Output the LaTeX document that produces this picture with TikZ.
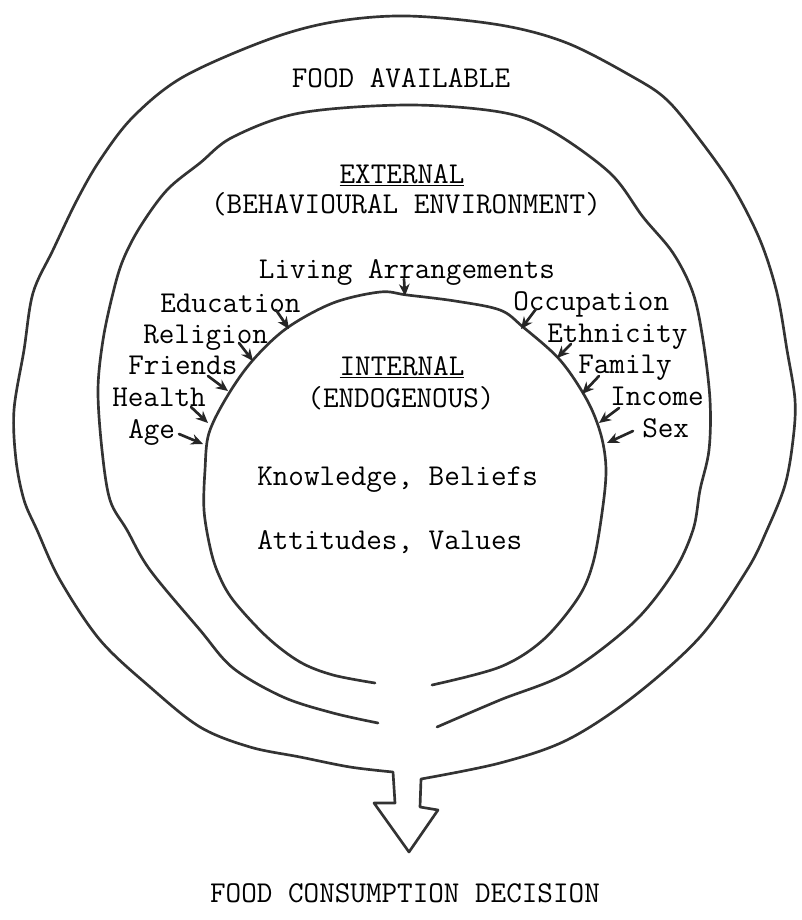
\documentclass[tikz,border=0pt]{standalone}
\usetikzlibrary{arrows.meta}
\begin{document}
\begin{tikzpicture}[x=0.75pt,y=-0.75pt,
  lbl/.style={font=\fontsize{22.7}{27}\selectfont\ttfamily, inner sep=0pt, anchor=base west, text=black},
  ctr/.style={lbl, anchor=base},
  curve/.style={line width=2pt, draw=black!80, line join=round, line cap=round},
  ptr/.style={line width=2pt, draw=black!85, line cap=round, -{Stealth[length=9pt,width=8pt]}}]
\useasboundingbox (0,0) rectangle (801,920);

% inner curve
\draw[curve] plot[smooth, tension=0.55] coordinates {(375,683) (333,675) (300,662) (267,637) (233,600) (218,573) (210,547) (204,510) (205,470) (209,433) (228,395) (253,360) (287,328) (333,303) (380,292) (407,295) (455,301) (500,310) (523,327) (560,360) (587,400) (601,435) (606,470) (602,513) (593,563) (578,598) (543,640) (500,667) (432,685)};

% middle curve
\draw[curve] plot[smooth, tension=0.55] coordinates {(378,723) (333,713) (283,697) (233,668) (200,630) (150,570) (127,530) (110,500) (102,450) (98,390) (103,340) (113,293) (123,260) (140,227) (167,190) (200,163) (233,137) (300,113) (407,105) (500,112) (550,130) (610,173) (643,217) (673,253) (693,293) (703,340) (710,400) (709,450) (700,490) (693,530) (673,573) (633,623) (567,673) (500,700) (437,727)};

% outer curve with the arrow
\draw[curve] (393,772) -- (395,803) -- (374,803) -- (409,852) -- (438,810) -- (420,807) -- (421,779)
  -- plot[smooth, tension=0.55] coordinates {(421,779) (500,763) (567,740) (633,697) (700,637) (747,570) (767,530) (785,485) (793,440) (795,400) (787,350) (777,293) (760,240) (733,187) (700,140) (667,100) (633,77) (567,43) (500,25) (407,16) (333,22) (267,40) (183,77) (133,117) (100,160) (77,200) (53,250) (33,293) (24,350) (14,410) (16,460) (24,500) (37,530) (60,580) (100,640) (150,687) (200,727) (250,747) (300,757) (350,767) (393,772)};

% texts
\node[ctr] (avail) at (401,88) {FOOD AVAILABLE};
\node[ctr] (ext) at (402,183) {\underline{EXTERNAL}};
\node[ctr] (beh) at (406,213) {(BEHAVIOURAL ENVIRONMENT)};
\node[ctr] (liv) at (407,278) {Living Arrangements};
\node[lbl] (edu) at (160,312) {Education};
\node[lbl] (rel) at (143,343) {Religion};
\node[lbl] (fri) at (128,374) {Friends};
\node[lbl] (hea) at (112,406) {Health};
\node[lbl] (age) at (128,438) {Age};
\node[lbl] (occ) at (513,310) {Occupation};
\node[lbl] (eth) at (547,342) {Ethnicity};
\node[lbl] (fam) at (578,373) {Family};
\node[lbl] (inc) at (610,405) {Income};
\node[lbl] (sex) at (642,437) {Sex};
\node[ctr] (int) at (402,375) {\underline{INTERNAL}};
\node[ctr] (endo) at (401,407) {(ENDOGENOUS)};
\node[lbl] (know) at (257,485) {Knowledge, Beliefs};
\node[lbl] (att) at (257,549) {Attitudes, Values};
\node[ctr] (dec) at (405,902) {FOOD CONSUMPTION DECISION};

% arrow ends
\coordinate (eduA) at (276,310); \coordinate (eduB) at (289,329);
\coordinate (relA) at (239,343); \coordinate (relB) at (253,361);
\coordinate (friA) at (208,376); \coordinate (friB) at (228,391);
\coordinate (heaA) at (191,407); \coordinate (heaB) at (208,423);
\coordinate (ageA) at (179,434); \coordinate (ageB) at (203,444);
\coordinate (livA) at (404,279); \coordinate (livB) at (405,296);
\coordinate (occA) at (536,309); \coordinate (occB) at (521,329);
\coordinate (ethA) at (571,344); \coordinate (ethB) at (557,358);
\coordinate (famA) at (599,376); \coordinate (famB) at (582,394);
\coordinate (incA) at (619,408); \coordinate (incB) at (599,423);
\coordinate (sexA) at (633,431); \coordinate (sexB) at (607,443);

\foreach \n in {edu,rel,fri,hea,age,liv,occ,eth,fam,inc,sex}
  \draw[ptr] (\n A) -- (\n B);
\end{tikzpicture}
\end{document}
